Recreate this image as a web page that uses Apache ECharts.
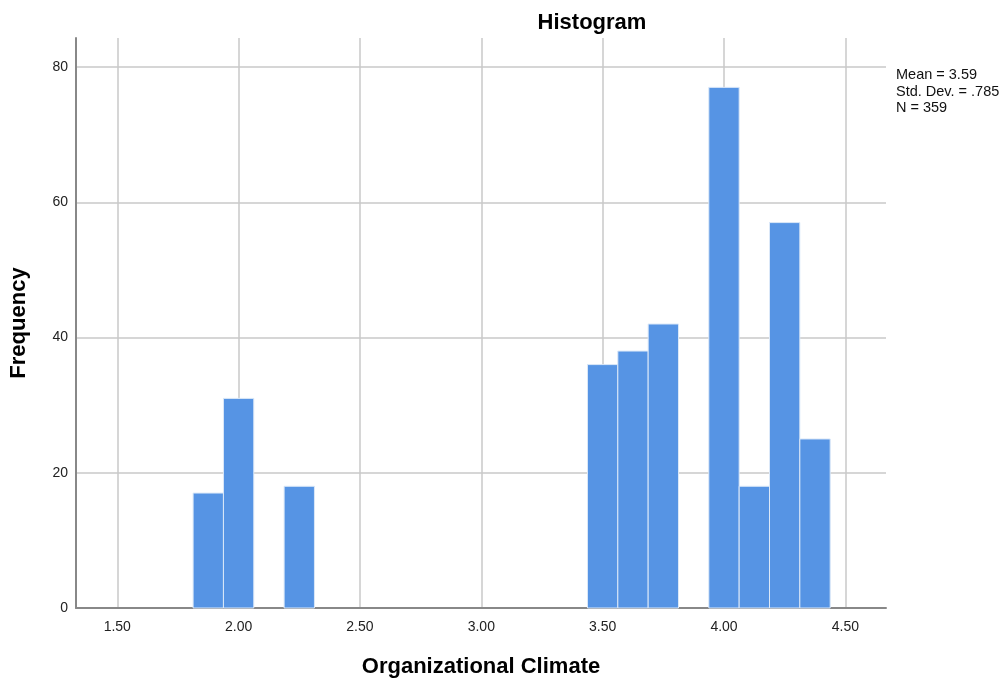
<!DOCTYPE html>
<html>
<head>
<meta charset="utf-8">
<script src="https://cdn.jsdelivr.net/npm/echarts@6/dist/echarts.min.js"></script>
<style>
  html, body { margin: 0; padding: 0; background: #fff; }
  #main { width: 1006px; height: 680px; }
</style>
</head>
<body>
<div id="main"></div>
<script>
// histogram bins (bin width 0.125)
var binStart = [1.8125, 1.9375, 2.1875, 3.4375, 3.5625, 3.6875, 3.9375, 4.0625, 4.1875, 4.3125];
var binEnd   = [1.9375, 2.0625, 2.3125, 3.5625, 3.6875, 3.8125, 4.0625, 4.1875, 4.3125, 4.4375];
var counts   = [17, 31, 18, 36, 38, 42, 77, 18, 57, 25];

var xTicks = [1.5, 2.0, 2.5, 3.0, 3.5, 4.0, 4.5];
var yTicks = [0, 20, 40, 60, 80];

var statLabels = ['Mean', 'Std. Dev.', 'N'];
var statValues = ['3.59', '.785', '359'];

var font = 'Liberation Sans, Arial, sans-serif';

var barData = [];
for (var i = 0; i < counts.length; i++) {
  barData.push([binStart[i], binEnd[i], counts[i]]);
}

var statText = statLabels.map(function (l, i) { return l + ' = ' + statValues[i]; }).join('\n');

var chart = echarts.init(document.getElementById('main'));
chart.setOption({
  animation: false,
  textStyle: { fontFamily: font },
  title: {
    text: 'Histogram',
    left: 587,
    top: 7,
    textAlign: 'center',
    textStyle: { fontSize: 22, fontWeight: 'bold', color: '#000', fontFamily: font }
  },
  graphic: [{
    type: 'text',
    left: 896,
    top: 67,
    style: { text: statText, fontSize: 14.5, lineHeight: 16.5, fill: '#111', fontFamily: font }
  }],
  grid: { left: 76, right: 120, top: 38, bottom: 72, outerBoundsMode: 'none', containLabel: false },
  xAxis: {
    type: 'value',
    min: 1.33,
    max: 4.6675,
    name: 'Organizational Climate',
    nameLocation: 'middle',
    nameGap: 48,
    nameTextStyle: { fontSize: 22, fontWeight: 'bold', color: '#000', fontFamily: font },
    axisLine: { show: true, onZero: false, lineStyle: { color: '#888', width: 2 } },
    axisTick: { show: false },
    splitLine: { show: false },
    axisLabel: {
      customValues: xTicks,
      color: '#222',
      fontSize: 14,
      margin: 12,
      formatter: function (v) { return v.toFixed(2); }
    }
  },
  yAxis: {
    type: 'value',
    min: 0,
    max: 84.3,
    interval: 20,
    name: 'Frequency',
    nameLocation: 'middle',
    nameGap: 46,
    nameTextStyle: { fontSize: 22, fontWeight: 'bold', color: '#000', fontFamily: font },
    axisLine: { show: true, lineStyle: { color: '#888', width: 2 } },
    axisTick: { show: false },
    axisLabel: {
      customValues: yTicks,
      color: '#222',
      fontSize: 14,
      margin: 8
    },
    splitLine: { show: true, showMaxLine: false, lineStyle: { color: '#c8c8c8', width: 1.5 } }
  },
  series: [
    {
      type: 'line',
      data: [],
      z: 0,
      silent: true,
      markLine: {
        silent: true,
        symbol: 'none',
        z: 0,
        label: { show: false },
        lineStyle: { color: '#c8c8c8', width: 1.5, type: 'solid' },
        data: xTicks.map(function (t) { return { xAxis: t }; })
      }
    },
    {
      type: 'custom',
      z: 5,
      data: barData,
      encode: { x: [0, 1], y: 2 },
      renderItem: function (params, api) {
        var p0 = api.coord([api.value(0), api.value(2)]);
        var p1 = api.coord([api.value(1), 0]);
        return {
          type: 'rect',
          shape: { x: p0[0], y: p0[1], width: p1[0] - p0[0], height: p1[1] - p0[1] },
          style: { fill: '#5694e4', stroke: '#dbe8f8', lineWidth: 1 }
        };
      }
    }
  ]
});
</script>
</body>
</html>
